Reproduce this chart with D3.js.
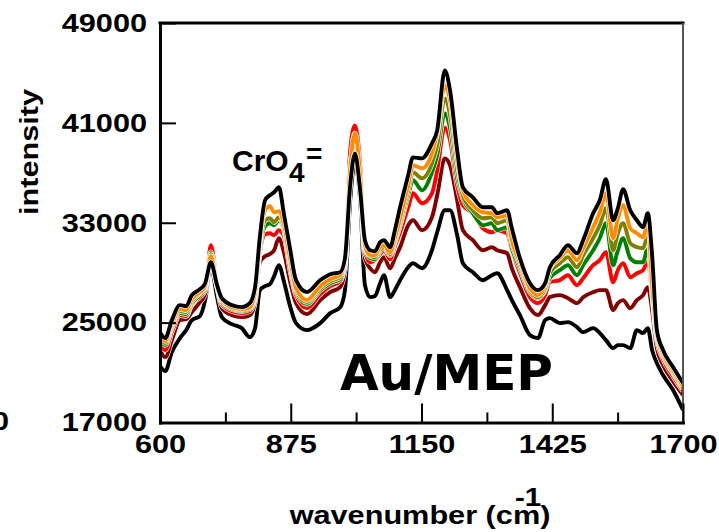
<!DOCTYPE html>
<html><head><meta charset="utf-8">
<script src="https://cdn.jsdelivr.net/npm/d3@7"></script>
<style>body{margin:0;background:#fff}svg{display:block}</style>
</head><body><svg id="c" width="719" height="532"></svg>
<script>
// ---- data (wavenumber in cm-1, intensity in counts) ----
const wavenumber = [600,611,625,642,655,667,684,695,707,720,730,751,772,789,800,810,821,831,840,850,861,873,886,909,937,958,979,989,1000,1010,1021,1031,1042,1052,1063,1071,1084,1094,1105,1122,1132,1151,1172,1183,1199,1210,1225,1237,1258,1279,1298,1309,1330,1340,1357,1378,1395,1410,1420,1441,1458,1477,1490,1511,1525,1538,1553,1563,1574,1589,1603,1616,1626,1635,1645,1658,1679,1700];

const blackTop = [24240,23760,25200,26400,26320,27200,27680,28160,29840,28000,
  26960,26400,26240,26560,27840,31840,34800,35200,35440,35840,
  33600,31040,28400,27440,28400,28880,29040,30160,36000,38560,
  35600,31600,30800,30720,31440,31600,31040,32400,34240,36800,
  38240,38160,39360,40400,45200,43600,38800,35840,35040,34240,
  34240,33760,34000,32560,30160,28160,27600,28160,29440,30400,
  31200,30560,31600,33760,34800,36480,33200,34160,35680,34000,
  33200,32640,33760,30400,24400,22800,21440,20160];

const orange = [24000,23520,24880,26080,26000,26880,27440,27920,30320,28000,
  26800,26240,26080,26240,27440,31600,34000,34320,33840,33920,
  32800,30240,27760,26800,27920,28480,28800,30000,37360,40160,
  36800,31200,30400,30400,31040,31200,30640,31760,33360,36000,
  37600,37360,38560,40160,44000,42800,38000,35600,34400,33840,
  33760,33440,33600,31600,29840,27760,27200,28000,29360,30160,
  30800,30000,30960,32640,33840,35360,31760,33360,34400,32560,
  32160,31840,33040,28000,24160,22560,21200,19920];

const olive = [23760,23360,24720,25920,25840,26720,27360,27840,30480,28000,
  26800,26160,26000,26160,27280,31200,33200,33360,33040,33440,
  32560,30000,27600,26640,27760,28320,28640,29840,37200,39600,
  36560,31040,30320,30240,30880,31040,30480,31600,33040,35600,
  37040,36560,37760,39200,42960,41600,37200,35200,34000,33360,
  33440,32960,33200,31360,29600,27600,27040,27760,28960,29760,
  30240,29440,30400,31760,32800,34160,30800,32160,32960,31360,
  31040,30960,32000,27760,24000,22400,21040,19760];

const green = [23600,23200,24560,25760,25680,26560,27200,27760,30640,27920,
  26640,26080,25920,26080,27120,30960,32720,32960,32800,33200,
  32400,29840,27440,26480,27600,28160,28480,29680,37600,39200,
  36400,30880,30160,30080,30720,30960,30400,31440,32800,35200,
  36400,35600,37040,38400,41760,40560,36560,34960,33760,32800,
  32960,32400,32640,30960,29360,27440,26960,27600,28560,29200,
  29600,28800,29600,30800,31760,32960,29600,30800,31760,30160,
  29840,29840,31040,27600,23840,22320,20960,19680];

const red = [23280,22800,24240,25600,25520,26480,27040,27600,31200,28080,
  26480,25920,25760,25920,26960,30640,32080,32160,32000,32400,
  31920,29360,27200,26160,27280,27920,28320,29680,38800,40800,
  37600,30640,29840,30000,30480,30800,30080,31120,32240,34240,
  35360,34560,35360,37200,40640,39600,36000,34400,33760,32560,
  32240,32400,32160,30800,29000,27040,26560,27200,28240,28400,
  28800,28000,28560,29600,30000,30640,28240,29200,29760,28640,
  28960,29200,30000,27200,23600,22080,20720,19520];

const darkRed = [22800,22240,23600,25200,25280,25840,26640,27280,29680,27840,
  26160,25600,25440,25600,26640,29840,30320,30480,30800,31760,
  30560,28400,26560,25680,26800,27440,27840,29200,36400,38640,
  35600,30160,29360,29040,29840,30240,29360,30160,31040,32800,
  33200,32400,33440,35200,38160,37600,34800,32400,31600,30800,
  31040,30800,30560,29360,27840,26160,25600,26400,27040,27200,
  26960,26560,27040,27440,27600,27600,26000,26560,26800,26160,
  26800,27200,27840,26000,22960,21600,20320,19200];

const blackBottom = [21520,21120,22640,23760,24400,25200,25520,26800,29520,27040,
  25440,24880,24560,23840,24560,27600,27920,28080,28720,29600,
  28240,26400,24960,24400,24960,25760,26240,27600,34800,37840,
  34800,28000,27040,27120,28160,28800,27040,27600,28400,29440,
  29760,29360,30800,32240,34000,34000,32000,29760,29040,28400,
  28800,28960,27600,26800,25600,24000,23760,25200,25360,24960,
  25040,24640,24240,24560,24160,23600,22960,23200,23200,22960,
  24400,24160,24560,22800,21760,20800,19600,18000];

const seriesValues = [blackBottom, darkRed, red, green, olive, orange, blackTop];
const seriesColors = ["#000000", "#800000", "#ff0000", "#008000", "#808000", "#ff8c00", "#000000"];

const xTicks = [600, 875, 1150, 1425, 1700];
const xMinorTicks = [737.5, 1012.5, 1287.5, 1562.5];
const yTicks = [17000, 25000, 33000, 41000, 49000];

// ---- layout ----
const L = 160, R = 683, T = 23, B = 422.5;
const x = d3.scaleLinear().domain([600, 1700]).range([L, R]);
const y = d3.scaleLinear().domain([17000, 49000]).range([B, T]);
const svg = d3.select('#c');
const sans = "'Liberation Sans', Arial, Helvetica, sans-serif";
const SX = 1.18;

svg.append('defs').append('clipPath').attr('id', 'clip')
  .append('rect').attr('x', L).attr('y', T).attr('width', R - L).attr('height', B - T);

const line = d3.line()
  .x((d, i) => x(wavenumber[i]))
  .y(d => y(d))
  .curve(d3.curveMonotoneX);

const gl = svg.append('g').attr('clip-path', 'url(#clip)');
seriesValues.forEach((vals, k) => {
  gl.append('path').attr('d', line(vals)).attr('fill', 'none')
    .attr('stroke', '#fff').attr('stroke-width', 5.2).attr('stroke-linejoin', 'round');
  gl.append('path').attr('d', line(vals)).attr('fill', 'none')
    .attr('stroke', seriesColors[k]).attr('stroke-width', 3.9).attr('stroke-linejoin', 'round');
});

// frame: top and right
svg.append('line').attr('x1', L).attr('x2', R).attr('y1', T).attr('y2', T)
  .attr('stroke', '#000').attr('stroke-width', 3).attr('stroke-linecap', 'square');
svg.append('line').attr('x1', R).attr('x2', R).attr('y1', T).attr('y2', B)
  .attr('stroke', '#555').attr('stroke-width', 2);

// x axis
const gxMinor = svg.append('g').attr('transform', `translate(0,${B})`)
  .call(d3.axisBottom(x).tickValues(xMinorTicks).tickSize(-10).tickSizeOuter(0).tickFormat(''));
gxMinor.select('.domain').remove();
gxMinor.selectAll('.tick line').attr('stroke', '#000').attr('stroke-width', 2);

const gx = svg.append('g').attr('transform', `translate(0,${B})`)
  .call(d3.axisBottom(x).tickValues(xTicks).tickSize(-19).tickSizeOuter(0).tickPadding(12).tickFormat(d3.format('d')));
gx.select('.domain').attr('stroke', '#000').attr('stroke-width', 3).attr('stroke-linecap', 'square');
gx.selectAll('.tick line').attr('stroke', '#000').attr('stroke-width', 2);
gx.selectAll('.tick text').attr('font-family', sans).attr('font-size', 26).attr('font-weight', 'bold')
  .attr('fill', '#000').attr('transform', `scale(${SX},1)`);

// y axis
const gy = svg.append('g').attr('transform', `translate(${L},0)`)
  .call(d3.axisLeft(y).tickValues(yTicks).tickSize(-16).tickSizeOuter(0).tickPadding(11).tickFormat(d3.format('d')));
gy.select('.domain').attr('stroke', '#000').attr('stroke-width', 3).attr('stroke-linecap', 'square');
gy.selectAll('.tick line').attr('stroke', '#000').attr('stroke-width', 2);
gy.selectAll('.tick text').attr('font-family', sans).attr('font-size', 26).attr('font-weight', 'bold')
  .attr('fill', '#000').attr('transform', `scale(${SX},1)`);

// text helper
function txt(str, tx, ty, size, anchor, extra, family) {
  return svg.append('text')
    .attr('transform', `translate(${tx},${ty}) ${extra || ''}`)
    .attr('font-family', family || sans).attr('font-size', size).attr('font-weight', 'bold')
    .attr('text-anchor', anchor).attr('fill', '#000').text(str);
}

// axis titles
txt('intensity', 38, 152, 26, 'middle', `rotate(-90) scale(${SX},1)`);
txt('wavenumber (cm)', 420, 524, 26, 'middle', `scale(${SX},1)`);
txt('-1', 515, 506, 25, 'start', `scale(${SX},1)`);

// stray clipped label at left edge
txt('0', 9, 430, 26, 'end', `scale(${SX},1)`);

// annotations
txt('CrO', 232, 171, 30, 'start');
txt('4', 289, 182, 28, 'start');
txt('=', 306, 163, 28, 'start');
txt('Au/MEP', 553, 390, 50, 'end', '', "'DejaVu Sans', Verdana, sans-serif");
</script>
</body></html>
